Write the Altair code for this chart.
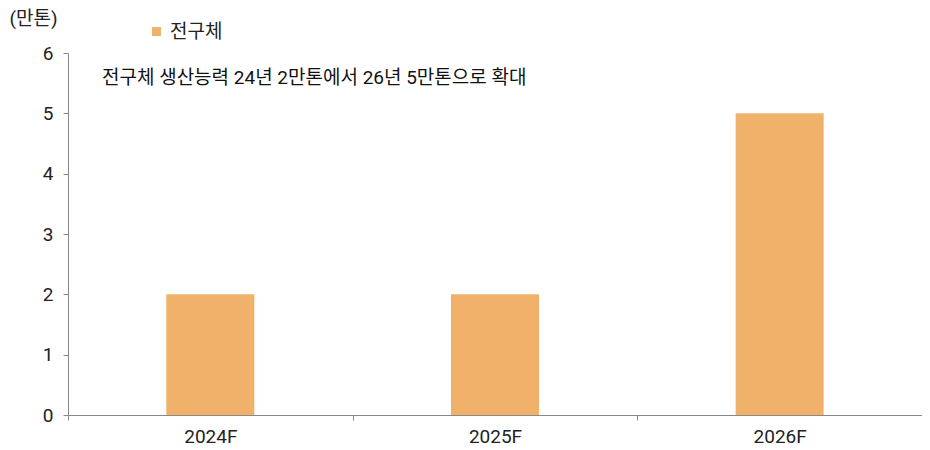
import altair as alt
import pandas as pd

years = ["2024F", "2025F", "2026F"]
capacity = [2, 2, 5]
series = ["전구체", "전구체", "전구체"]
note = "전구체 생산능력 24년 2만톤에서 26년 5만톤으로 확대"

df = pd.DataFrame({"year": years, "value": capacity, "series": series})

FONT = "Roboto, 'Noto Sans CJK KR', sans-serif"
FS = 19

bars = alt.Chart(df).mark_bar(width=88).encode(
    x=alt.X("year:N", sort=years,
            scale=alt.Scale(paddingInner=0, paddingOuter=0),
            axis=alt.Axis(title=None, labelAngle=0, tickBand="extent",
                          labelFontSize=FS, labelColor="#222", labelPadding=7,
                          tickSize=5, tickColor="#888", domainColor="#888",
                          labelFont=FONT)),
    y=alt.Y("value:Q", scale=alt.Scale(domain=[0, 6]),
            axis=alt.Axis(values=[0, 1, 2, 3, 4, 5, 6], grid=False,
                          title="(만톤)", titleAngle=0, titleAlign="left",
                          titleBaseline="top", titleX=-59, titleY=-44,
                          titleFontSize=FS, titleFontWeight="normal", titleColor="#222",
                          titleFont=FONT,
                          labelFontSize=FS, labelColor="#222", labelPadding=10,
                          tickSize=5, tickColor="#888", domainColor="#888",
                          labelFont=FONT)),
    color=alt.Color("series:N", scale=alt.Scale(range=["#F0B26B"]),
                    legend=alt.Legend(title=None, orient="none", legendX=79, legendY=-31,
                                      symbolType="square", symbolSize=80,
                                      labelFontSize=FS, labelColor="#222",
                                      labelFont=FONT)),
)

text = alt.Chart(pd.DataFrame({"t": [note]})).mark_text(
    align="left", baseline="middle", fontSize=FS, color="#111", font=FONT
).encode(x=alt.value(34), y=alt.value(25), text="t:N")

chart = alt.layer(bars, text).properties(
    width=854, height=362,
    autosize=alt.AutoSizeParams(type="none"),
    padding={"left": 60, "top": 45, "right": 0, "bottom": 34},
).configure_view(stroke=None)

chart.save("out.html", embed_options={"renderer": "svg", "actions": False})
